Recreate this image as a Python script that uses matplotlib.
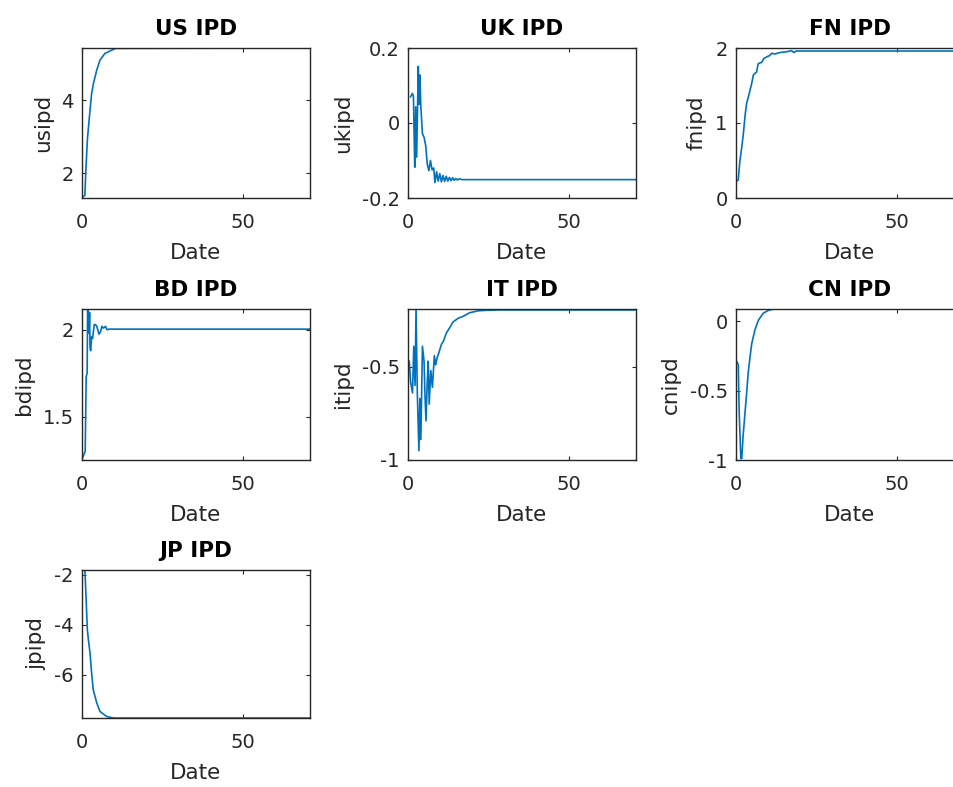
import matplotlib
matplotlib.use("Agg")
import matplotlib.pyplot as plt
from matplotlib.ticker import FuncFormatter

# impulse-response style paths (x = horizon, y = level)
us_x = [0, 0.9, 1.2, 1.7, 2.5, 3.0, 3.55, 4.6, 5.6, 7.1, 9.2, 10.5, 71]
us_y = [1.34, 1.40, 2.10, 2.95, 3.73, 4.18, 4.45, 4.82, 5.09, 5.27, 5.36, 5.41, 5.42]

uk_x = [0.8, 1.4, 1.7, 1.9, 2.1, 2.4, 2.7, 3.2, 3.5, 3.7, 4.0, 4.5, 5.0, 5.5, 6.0, 6.5,
        7.0, 7.5, 8.0, 8.4, 8.9, 9.4, 9.9, 10.4, 10.9, 11.4, 11.9, 12.4, 12.9, 13.4,
        13.9, 14.4, 14.9, 15.4, 16.0, 17.0, 71]
uk_y = [0.070, 0.079, 0.070, -0.030, -0.118, 0.043, -0.091, 0.151, 0.050, 0.128, 0.043,
        -0.029, -0.038, -0.060, -0.109, -0.127, -0.100, -0.125, -0.120, -0.159, -0.130,
        -0.155, -0.135, -0.157, -0.140, -0.156, -0.142, -0.155, -0.145, -0.154, -0.146,
        -0.153, -0.148, -0.152, -0.149, -0.151, -0.151]

fn_x = [0, 0.7, 1.2, 1.8, 2.3, 2.8, 3.3, 4.1, 4.9, 5.4, 6.4, 6.9, 8.0, 8.7, 9.5, 10.5,
        11.1, 12.1, 13.7, 15.8, 17.3, 18.0, 18.8, 71]
fn_y = [0.22, 0.24, 0.49, 0.68, 0.86, 1.09, 1.26, 1.39, 1.53, 1.64, 1.68, 1.79, 1.81,
        1.86, 1.88, 1.90, 1.93, 1.92, 1.94, 1.95, 1.965, 1.94, 1.96, 1.96]

bd_x = [0, 1.0, 1.3, 1.6, 1.75, 2.0, 2.2, 2.35, 2.5, 2.7, 3.0, 3.3, 3.8, 4.2, 4.6, 5.3,
        5.8, 6.2, 6.7, 7.3, 7.8, 8.3, 71]
bd_y = [1.255, 1.30, 1.73, 1.75, 2.12, 2.06, 1.98, 2.10, 1.90, 1.88, 1.96, 1.95, 2.03,
        2.03, 2.02, 1.975, 1.99, 2.02, 2.01, 2.02, 2.00, 2.004, 2.004]

it_x = [0.4, 0.8, 1.4, 1.8, 2.2, 2.5, 2.9, 3.4, 3.7, 4.0, 4.5, 5.0, 5.3, 5.6, 6.0, 6.3,
        6.6, 7.1, 7.6, 8.2, 8.6, 9.1, 9.7, 10.4, 11.1, 11.9, 13.0, 14.0, 15.6, 17.1,
        19.2, 21.8, 24.3, 28.9, 71]
it_y = [-0.47, -0.58, -0.64, -0.39, -0.60, -0.19, -0.64, -0.95, -0.67, -0.89, -0.39,
        -0.47, -0.66, -0.79, -0.58, -0.47, -0.70, -0.52, -0.61, -0.44, -0.49, -0.45,
        -0.42, -0.38, -0.36, -0.32, -0.29, -0.26, -0.24, -0.23, -0.21, -0.20, -0.197,
        -0.195, -0.195]

cn_x = [0, 0.7, 1.0, 1.5, 1.8, 2.2, 2.8, 3.3, 3.8, 4.4, 4.9, 5.9, 7.0, 8.5, 10.1, 11.6, 71]
cn_y = [-0.28, -0.31, -0.66, -0.99, -0.99, -0.83, -0.66, -0.52, -0.37, -0.25, -0.16,
        -0.06, 0.01, 0.06, 0.08, 0.09, 0.09]

jp_x = [0.9, 1.25, 1.67, 2.0, 2.5, 3.0, 3.5, 4.6, 5.6, 7.7, 9.8, 71]
jp_y = [-1.8, -2.87, -4.2, -4.6, -5.13, -5.93, -6.6, -7.13, -7.47, -7.67, -7.73, -7.73]

titles = ["US IPD", "UK IPD", "FN IPD", "BD IPD", "IT IPD", "CN IPD", "JP IPD"]
ylabels = ["usipd", "ukipd", "fnipd", "bdipd", "itipd", "cnipd", "jpipd"]
series = [(us_x, us_y), (uk_x, uk_y), (fn_x, fn_y), (bd_x, bd_y),
          (it_x, it_y), (cn_x, cn_y), (jp_x, jp_y)]
ylims = [(1.33, 5.42), (-0.2, 0.2), (0, 2), (1.25, 2.12), (-1, -0.19), (-1, 0.09), (-7.73, -1.8)]
yticks = [[2, 4], [-0.2, 0, 0.2], [0, 1, 2], [1.5, 2], [-1, -0.5], [-1, -0.5, 0], [-6, -4, -2]]
xticks = [0, 50]

W, H = 954, 787
col_left = [82, 408, 736]
row_top = [48, 309, 570]
row_h = [150, 151, 148]
panel_w = 228

TXT = "#262626"
LINE = "#0072BD"
plt.rcParams["font.family"] = ["DejaVu Sans"]
plt.rcParams["axes.unicode_minus"] = False

fig = plt.figure(figsize=(W / 100, H / 100), dpi=100)
fmt = FuncFormatter(lambda v, p: f"{v:g}")

for i, ((x, y), t, yl) in enumerate(zip(series, titles, ylabels)):
    r, c = divmod(i, 3)
    rect = [col_left[c] / W, 1 - (row_top[r] + row_h[r]) / H, panel_w / W, row_h[r] / H]
    ax = fig.add_axes(rect)
    ax.plot(x, y, color=LINE, lw=1.2)
    ax.set_xlim(0, 71)
    ax.set_ylim(*ylims[i])
    ax.set_xticks(xticks)
    ax.set_yticks(yticks[i])
    ax.xaxis.set_major_formatter(fmt)
    ax.yaxis.set_major_formatter(fmt)
    ax.tick_params(direction="in", top=True, right=True, length=3, width=0.8,
                   colors=TXT, labelsize=14)
    ax.tick_params(axis="x", pad=11)
    ax.tick_params(axis="y", pad=6)
    for s in ax.spines.values():
        s.set_color(TXT)
        s.set_linewidth(1.0)
    ax.set_title(t, fontsize=15.5, fontweight="bold", color="black", pad=9.5)
    ax.set_xlabel("Date", fontsize=15.5, color=TXT, labelpad=8)
    ax.set_ylabel(yl, fontsize=15.5, color=TXT, labelpad=6)

fig.savefig("out.png", dpi=100)
